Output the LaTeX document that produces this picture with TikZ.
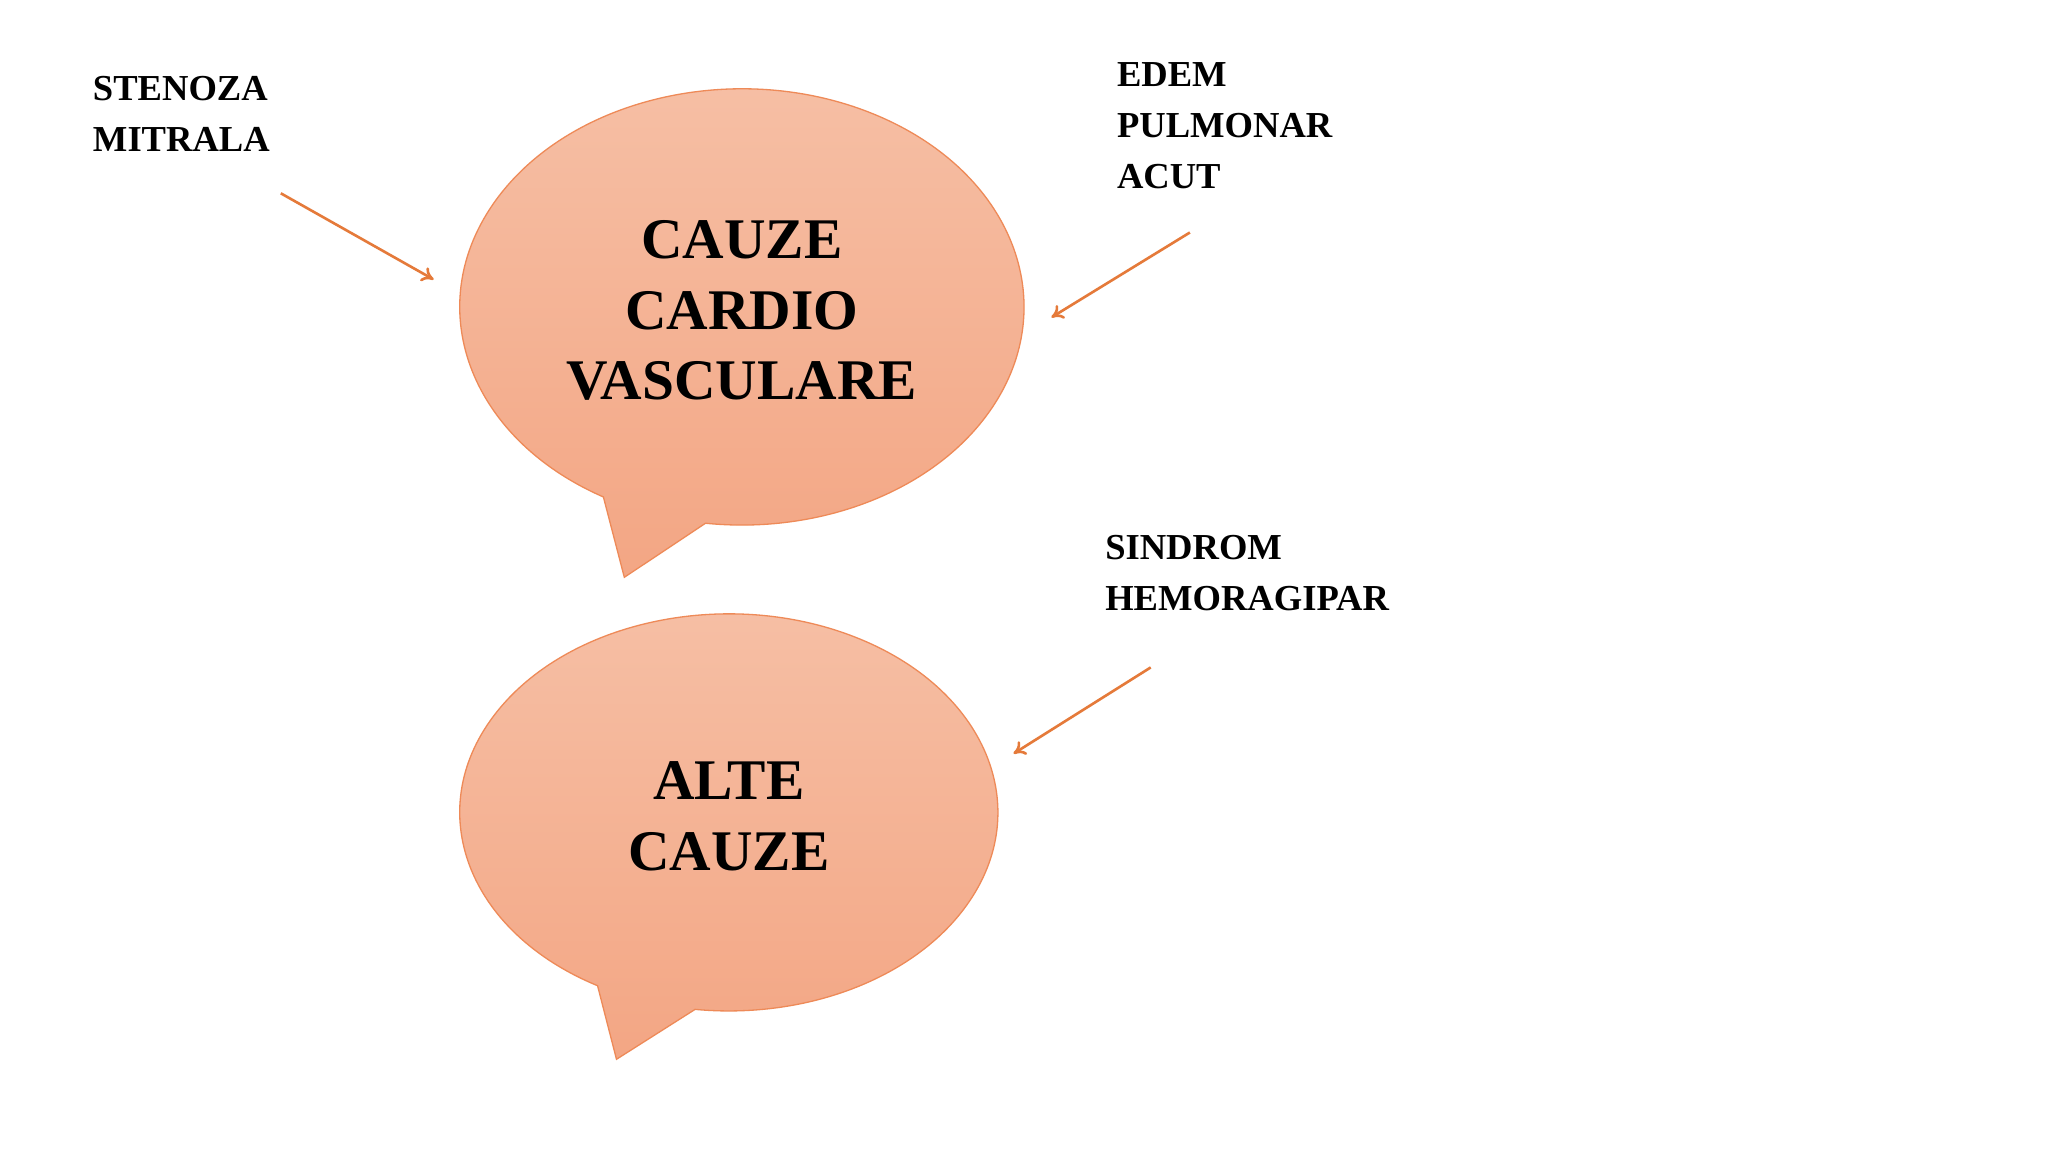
\documentclass[tikz,border=0pt]{standalone}
\usepackage{fontspec}
\setmainfont{Liberation Serif}
\usetikzlibrary{arrows.meta}
\definecolor{bubtop}{HTML}{F6C0A6}
\definecolor{bubbot}{HTML}{F3A684}
\definecolor{bubline}{HTML}{EE8A58}
\definecolor{arr}{HTML}{E57A3A}
\tikzset{
 bubble/.style={top color=bubtop,bottom color=bubbot,draw=bubline,line width=1pt},
 lbl/.style={anchor=north west,align=left,font=\fontsize{28}{39}\selectfont\bfseries,inner sep=0},
 big/.style={align=center,font=\fontsize{44}{54}\selectfont\bfseries,inner sep=0},
 arrw/.style={draw=arr,line width=2pt,-{To[length=9pt,width=12pt]}}
}
\begin{document}
\begin{tikzpicture}[x=1pt,y=-1pt]
\useasboundingbox[fill=white] (0,0) rectangle (1568,882);
\path[bubble] (568,235) ++(119.4:216 and 167) arc[start angle=119.4,end angle=457.4,x radius=216,y radius=167] -- (478,442) -- cycle;
\path[bubble] (558,622) ++(119.2:206 and 152) arc[start angle=119.2,end angle=457.2,x radius=206,y radius=152] -- (472,811) -- cycle;
\node[big] (b1) at (568,238) {CAUZE\\CARDIO\\VASCULARE};
\node[big] (b2) at (558,625) {ALTE\\CAUZE};
\node[lbl] (s) at (71,58) {STENOZA\\MITRALA};
\node[lbl] (e) at (855,48) {EDEM\\PULMONAR\\ACUT};
\node[lbl] (h) at (846,410) {SINDROM\\HEMORAGIPAR};
\coordinate (s1) at (215,148); \coordinate (s2) at (332,214);
\coordinate (e1) at (911,178); \coordinate (e2) at (805,243);
\coordinate (h1) at (881,511); \coordinate (h2) at (776,577);
\draw[arrw] (s1) -- (s2);
\draw[arrw] (e1) -- (e2);
\draw[arrw] (h1) -- (h2);
\end{tikzpicture}
\end{document}
